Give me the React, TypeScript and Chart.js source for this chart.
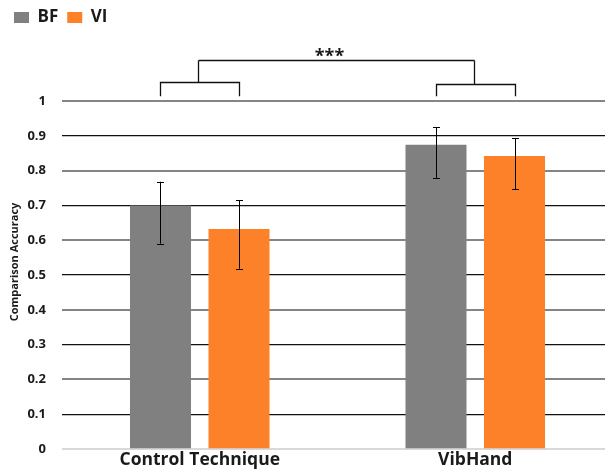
import React, { useEffect, useRef } from "react";
import { Chart, registerables } from "chart.js";

Chart.register(...registerables);

const categories = ["Control Technique", "VibHand"];
const seriesLabels = ["BF", "VI"];
const bfValues = [0.7, 0.874];
const viValues = [0.632, 0.842];
const bfErrLow = [0.59, 0.779];
const bfErrHigh = [0.768, 0.925];
const viErrLow = [0.518, 0.747];
const viErrHigh = [0.715, 0.893];
const yTickLabels = ["0", "0.1", "0.2", "0.3", "0.4", "0.5", "0.6", "0.7", "0.8", "0.9", "1"];
const yTitle = "Comparison Accuracy";
const significanceLabel = "***";
// bracket levels in data units
const bracketLegBottom = 1.014;
const bracketSmallTop = [1.055, 1.049];
const bracketBigTop = 1.118;

const FONT = "'Open Sans', Lato, sans-serif";
const TEXT = "#1a1a1a";

const overlayPlugin = {
  id: "overlay",
  afterDatasetsDraw(chart: any) {
    const ctx = chart.ctx;
    const y = chart.scales.y;
    const area = chart.chartArea;
    const lows = [bfErrLow, viErrLow];
    const highs = [bfErrHigh, viErrHigh];
    ctx.save();
    ctx.strokeStyle = "#000";
    ctx.lineWidth = 1;
    chart.data.datasets.forEach((_: any, di: number) => {
      const meta = chart.getDatasetMeta(di);
      meta.data.forEach((bar: any, j: number) => {
        const x = Math.round(bar.x) + 0.5;
        const yl = y.getPixelForValue(lows[di][j]);
        const yh = y.getPixelForValue(highs[di][j]);
        ctx.beginPath();
        ctx.moveTo(x, yl);
        ctx.lineTo(x, yh);
        ctx.moveTo(x - 3.5, Math.round(yh) + 0.5);
        ctx.lineTo(x + 3.5, Math.round(yh) + 0.5);
        ctx.moveTo(x - 3.5, Math.round(yl) + 0.5);
        ctx.lineTo(x + 3.5, Math.round(yl) + 0.5);
        ctx.stroke();
      });
    });
    // brackets
    const m0 = chart.getDatasetMeta(0);
    const m1 = chart.getDatasetMeta(1);
    const legB = y.getPixelForValue(bracketLegBottom);
    const bigT = Math.round(y.getPixelForValue(bracketBigTop)) + 0.5;
    const mids: number[] = [];
    ctx.strokeStyle = "#111";
    ctx.lineWidth = 1.3;
    categories.forEach((_, j) => {
      const xa = Math.round(m0.data[j].x) + 0.5;
      const xb = Math.round(m1.data[j].x) + 0.5;
      const t = Math.round(y.getPixelForValue(bracketSmallTop[j])) + 0.5;
      ctx.beginPath();
      ctx.moveTo(xa, legB);
      ctx.lineTo(xa, t);
      ctx.lineTo(xb, t);
      ctx.lineTo(xb, legB);
      ctx.stroke();
      const mid = Math.round((xa + xb) / 2 - 2) + 0.5;
      mids.push(mid);
      ctx.beginPath();
      ctx.moveTo(mid, t);
      ctx.lineTo(mid, bigT);
      ctx.stroke();
    });
    ctx.beginPath();
    ctx.moveTo(mids[0], bigT);
    ctx.lineTo(mids[1], bigT);
    ctx.stroke();
    ctx.fillStyle = TEXT;
    ctx.font = `bold 18px ${FONT}`;
    ctx.textAlign = "center";
    ctx.textBaseline = "alphabetic";
    ctx.fillText(significanceLabel, (mids[0] + mids[1]) / 2 - 7, bigT + 1.5);
    // y-axis title
    ctx.save();
    ctx.translate(15, (area.top + area.bottom) / 2 - 13);
    ctx.rotate(-Math.PI / 2);
    ctx.font = `bold 11px ${FONT}`;
    ctx.textBaseline = "middle";
    ctx.fillText(yTitle, 0, 0);
    ctx.restore();
    ctx.restore();
  },
};

export default function App() {
  const ref = useRef<HTMLCanvasElement | null>(null);
  useEffect(() => {
    if (!ref.current) return;
    const chart = new Chart(ref.current, {
      type: "bar",
      data: {
        labels: categories,
        datasets: [
          {
            label: seriesLabels[0],
            data: bfValues,
            backgroundColor: "#808080",
            categoryPercentage: 0.57,
            barPercentage: 0.777,
          },
          {
            label: seriesLabels[1],
            data: viValues,
            backgroundColor: "#fd8128",
            categoryPercentage: 0.57,
            barPercentage: 0.777,
          },
        ],
      },
      options: {
        responsive: false,
        animation: false,
        layout: { padding: { left: 5, right: 7, top: 0, bottom: 0 } },
        plugins: {
          legend: {
            display: true,
            position: "top",
            align: "start",
            labels: {
              boxWidth: 15,
              boxHeight: 11,
              padding: 9,
              color: TEXT,
              font: { family: FONT, size: 17, weight: "bold" },
            },
          },
          title: {
            display: true,
            text: "",
            weight: 100,
            font: { size: 10, lineHeight: 1 },
            padding: { top: 55, bottom: 0 },
          },
          tooltip: { enabled: false },
        },
        scales: {
          x: {
            grid: { display: false, drawTicks: false },
            border: { display: true, color: "#d9d9d9", width: 1 },
            ticks: {
              color: TEXT,
              padding: 1,
              font: { family: FONT, size: 17.5, weight: "bold" },
            },
            afterFit(scale: any) {
              scale.height = 22;
            },
          },
          y: {
            min: 0,
            max: 1,
            border: { display: false },
            grid: {
              drawTicks: false,
              color: (c: any) => {
                const i = c.index;
                if (i === 0) return "#d9d9d9";
                return i % 2 === 0 ? "#858585" : "#111";
              },
              lineWidth: (c: any) => (c.index % 2 === 0 && c.index !== 0 ? 2 : 1.3),
            },
            ticks: {
              stepSize: 0.1,
              padding: 16,
              color: TEXT,
              font: { family: FONT, size: 13, weight: "bold" },
              callback: (_v: any, i: number) => yTickLabels[i],
            },
            afterFit(scale: any) {
              scale.width = 57;
              scale.paddingTop = 0;
              scale.paddingBottom = 0;
            },
          },
        },
      },
      plugins: [overlayPlugin],
    });
    return () => chart.destroy();
  }, []);
  return (
    <div style={{ position: "fixed", left: 0, top: 0, width: 605, height: 471, overflow: "hidden", background: "#fff" }}>
      <canvas ref={ref} width={620} height={471} style={{ width: 620, height: 471, display: "block" }} />
    </div>
  );
}
